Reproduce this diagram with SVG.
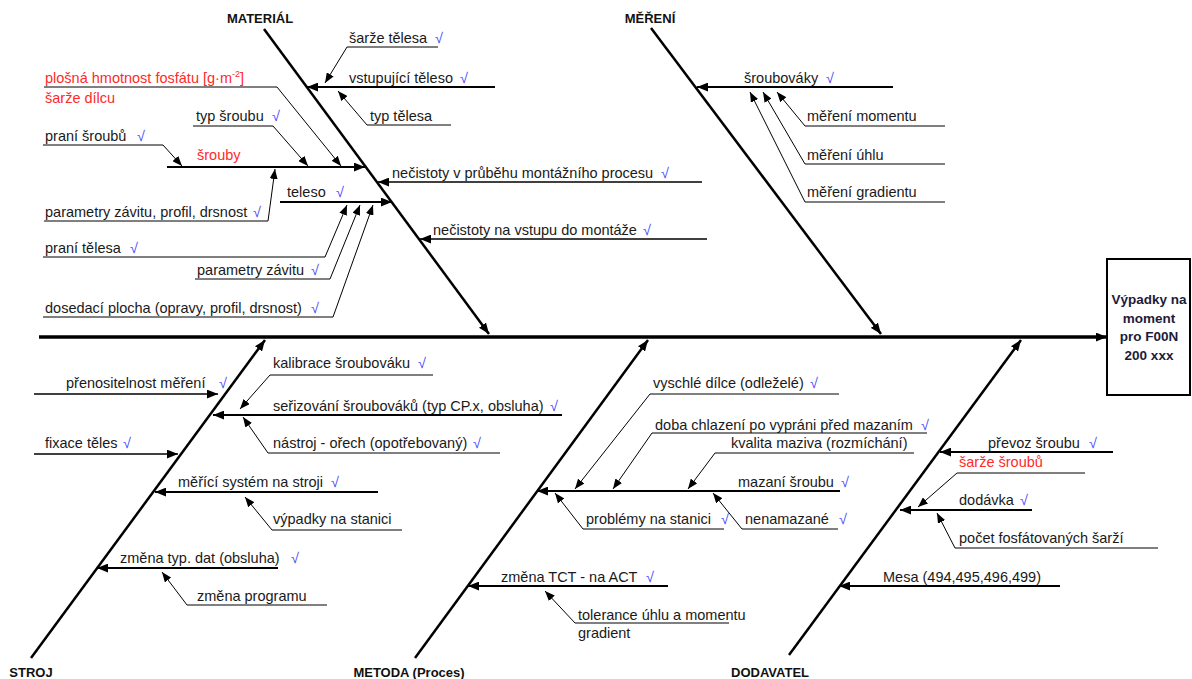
<svg xmlns="http://www.w3.org/2000/svg" width="1192" height="679" viewBox="0 0 1192 679">
<style>
.t{font-family:"Liberation Sans",Arial,sans-serif;font-size:14.5px;fill:#1a1a1a}
.r{fill:#ff2a2a}
.ck{fill:#4848ff}
.h{font-family:"Liberation Sans",Arial,sans-serif;font-size:13px;font-weight:bold;fill:#111}
.bx{font-family:"Liberation Sans",Arial,sans-serif;font-size:13.5px;font-weight:bold;fill:#1c1c3a}
.spine{stroke:#000;stroke-width:3.5;fill:none}
.bone{stroke:#000;stroke-width:2.5;fill:none}
.k{stroke:#000;stroke-width:2.2;fill:none}
.m{stroke:#000;stroke-width:1.4;fill:none}
.n{stroke:#000;stroke-width:1;fill:none}
</style>
<defs>
<marker id="ab" viewBox="0 0 10 8" refX="10" refY="4" markerWidth="11" markerHeight="9" markerUnits="userSpaceOnUse" orient="auto"><path d="M0,0L10,4L0,8z" fill="#000"/></marker>
<marker id="as" viewBox="0 0 10 8" refX="10" refY="4" markerWidth="10" markerHeight="8" markerUnits="userSpaceOnUse" orient="auto"><path d="M0,0L10,4L0,8z" fill="#000"/></marker>
</defs>

<g id="connectors">
<line class="spine" x1="39" y1="337" x2="1107" y2="337" marker-end="url(#ab)"/>
<line class="bone" x1="264" y1="29" x2="489" y2="334" marker-end="url(#ab)"/>
<line class="bone" x1="651" y1="28" x2="881" y2="334" marker-end="url(#ab)"/>
<line class="bone" x1="31" y1="658" x2="265" y2="340" marker-end="url(#ab)"/>
<line class="bone" x1="415" y1="658" x2="648" y2="340" marker-end="url(#ab)"/>
<line class="bone" x1="789" y1="655" x2="1021" y2="340" marker-end="url(#ab)"/>

<!-- MATERIAL -->
<polyline class="n" points="438,47 347,47 325,83" marker-end="url(#as)"/>
<line class="k" x1="495" y1="87" x2="307" y2="87" marker-end="url(#ab)"/>
<polyline class="n" points="451,125 367,125 338,91" marker-end="url(#as)"/>
<polyline class="n" points="44,87 277,87 341,166" marker-end="url(#as)"/>
<polyline class="n" points="193,126 273,126 308,166" marker-end="url(#as)"/>
<polyline class="n" points="43,145 163,145 182,166" marker-end="url(#as)"/>
<line class="k" x1="167" y1="167" x2="365" y2="167" marker-end="url(#ab)"/>
<polyline class="n" points="44,221 268,221 275,169" marker-end="url(#as)"/>
<line class="m" x1="702" y1="182" x2="378" y2="182" marker-end="url(#ab)"/>
<line class="k" x1="280" y1="202" x2="392" y2="202" marker-end="url(#ab)"/>
<polyline class="n" points="43,257 325,257 347,205" marker-end="url(#as)"/>
<polyline class="n" points="195,279 330,279 360,205" marker-end="url(#as)"/>
<polyline class="n" points="43,317 333,317 373,205" marker-end="url(#as)"/>
<line class="m" x1="707" y1="239" x2="420" y2="239" marker-end="url(#ab)"/>

<!-- MERENI -->
<line class="k" x1="893" y1="87" x2="697" y2="87" marker-end="url(#ab)"/>
<polyline class="n" points="945,126 805,126 777,92" marker-end="url(#as)"/>
<polyline class="n" points="945,164 805,164 763,92" marker-end="url(#as)"/>
<polyline class="n" points="945,202 805,202 750,92" marker-end="url(#as)"/>

<!-- STROJ -->
<polyline class="n" points="433,375 270,375 240,409" marker-end="url(#as)"/>
<line class="m" x1="34" y1="394" x2="218" y2="394" marker-end="url(#ab)"/>
<line class="k" x1="562" y1="415" x2="213" y2="415" marker-end="url(#ab)"/>
<polyline class="n" points="500,453 268,453 243,417" marker-end="url(#as)"/>
<line class="m" x1="34" y1="454" x2="178" y2="454" marker-end="url(#ab)"/>
<line class="k" x1="378" y1="492" x2="155" y2="492" marker-end="url(#ab)"/>
<polyline class="n" points="402,530 272,530 245,497" marker-end="url(#as)"/>
<line class="k" x1="278" y1="568" x2="97" y2="568" marker-end="url(#ab)"/>
<polyline class="n" points="327,605 187,605 162,572" marker-end="url(#as)"/>

<!-- METODA -->
<polyline class="n" points="839,394 650,394 575,489" marker-end="url(#as)"/>
<polyline class="n" points="927,433 652,433 613,489" marker-end="url(#as)"/>
<polyline class="n" points="914,453 715,453 688,489" marker-end="url(#as)"/>
<line class="k" x1="840" y1="491" x2="537" y2="491" marker-end="url(#ab)"/>
<polyline class="n" points="724,529 583,529 555,493" marker-end="url(#as)"/>
<polyline class="n" points="838,529 742,529 713,493" marker-end="url(#as)"/>
<line class="k" x1="668" y1="586" x2="468" y2="586" marker-end="url(#ab)"/>
<polyline class="n" points="729,623 575,623 545,591" marker-end="url(#as)"/>

<!-- DODAVATEL -->
<line class="k" x1="1113" y1="452" x2="940" y2="452" marker-end="url(#ab)"/>
<polyline class="n" points="1085,473 957,473 918,507" marker-end="url(#as)"/>
<line class="k" x1="1032" y1="510" x2="900" y2="510" marker-end="url(#ab)"/>
<polyline class="n" points="1158,548 955,548 937,513" marker-end="url(#as)"/>
<line class="k" x1="1060" y1="586" x2="839" y2="586" marker-end="url(#ab)"/>
</g>

<g id="effect">
<rect x="1107" y="259" width="83" height="136" fill="#fff" stroke="#000" stroke-width="2"/>
<text class="bx" text-anchor="middle"><tspan x="1149" y="304">Výpadky na</tspan><tspan x="1149" y="323">moment</tspan><tspan x="1149" y="341">pro F00N</tspan><tspan x="1149" y="360">200 xxx</tspan></text>
</g>

<g id="material">
<text class="h" x="260" y="23" text-anchor="middle">MATERIÁL</text>
<text class="t" x="349" y="43">šarže tělesa <tspan class="ck" x="435">√</tspan></text>
<text class="t" x="349" y="83">vstupující těleso <tspan class="ck" x="460">√</tspan></text>
<text class="t" x="370" y="121">typ tělesa</text>
<text class="t r" x="45" y="83">plošná hmotnost fosfátu [g·m<tspan font-size="9" dy="-6">-2</tspan><tspan dy="6">]</tspan></text>
<text class="t r" x="45" y="103">šarže dílcu</text>
<text class="t" x="196" y="121">typ šroubu <tspan class="ck" x="272">√</tspan></text>
<text class="t" x="45" y="141">praní šroubů <tspan class="ck" x="137">√</tspan></text>
<text class="t r" x="197" y="160">šrouby</text>
<text class="t" x="45" y="217">parametry závitu, profil, drsnost <tspan class="ck" x="253">√</tspan></text>
<text class="t" x="392" y="178">nečistoty v průběhu montážního procesu <tspan class="ck" x="661">√</tspan></text>
<text class="t" x="287" y="197">teleso <tspan class="ck" x="336">√</tspan></text>
<text class="t" x="45" y="253">praní tělesa <tspan class="ck" x="130">√</tspan></text>
<text class="t" x="197" y="275">parametry závitu <tspan class="ck" x="311">√</tspan></text>
<text class="t" x="45" y="313">dosedací plocha (opravy, profil, drsnost) <tspan class="ck" x="311">√</tspan></text>
<text class="t" x="433" y="235">nečistoty na vstupu do montáže <tspan class="ck" x="643">√</tspan></text>
</g>

<g id="mereni">
<text class="h" x="650" y="23" text-anchor="middle">MĚŘENÍ</text>
<text class="t" x="744" y="83">šroubováky <tspan class="ck" x="826">√</tspan></text>
<text class="t" x="807" y="121">měření momentu</text>
<text class="t" x="807" y="160">měření úhlu</text>
<text class="t" x="807" y="197">měření gradientu</text>
</g>

<g id="stroj">
<text class="h" x="31" y="677" text-anchor="middle">STROJ</text>
<text class="t" x="273" y="368">kalibrace šroubováku <tspan class="ck" x="418">√</tspan></text>
<text class="t" x="66" y="388">přenositelnost měření <tspan class="ck" x="219">√</tspan></text>
<text class="t" x="273" y="411">seřizování šroubováků (typ CP.x, obsluha) <tspan class="ck" x="550">√</tspan></text>
<text class="t" x="273" y="448">nástroj - ořech (opotřebovaný) <tspan class="ck" x="473">√</tspan></text>
<text class="t" x="45" y="448">fixace těles <tspan class="ck" x="123">√</tspan></text>
<text class="t" x="178" y="487">měřící systém na stroji <tspan class="ck" x="331">√</tspan></text>
<text class="t" x="273" y="524">výpadky na stanici</text>
<text class="t" x="120" y="563">změna typ. dat (obsluha) <tspan class="ck" x="291">√</tspan></text>
<text class="t" x="197" y="601">změna programu</text>
</g>

<g id="metoda">
<text class="h" x="409" y="677" text-anchor="middle">METODA (Proces)</text>
<text class="t" x="653" y="388">vyschlé dílce (odleželé) <tspan class="ck" x="810">√</tspan></text>
<text class="t" x="655" y="430">doba chlazení po vypráni před mazaním <tspan class="ck" x="921">√</tspan></text>
<text class="t" x="731" y="448">kvalita maziva (rozmíchání)</text>
<text class="t" x="738" y="487">mazaní šroubu <tspan class="ck" x="841">√</tspan></text>
<text class="t" x="586" y="524">problémy na stanici <tspan class="ck" x="721">√</tspan></text>
<text class="t" x="745" y="524">nenamazané <tspan class="ck" x="839">√</tspan></text>
<text class="t" x="501" y="582">změna TCT - na ACT <tspan class="ck" x="646">√</tspan></text>
<text class="t" x="578" y="620">tolerance úhlu a momentu</text>
<text class="t" x="578" y="638">gradient</text>
</g>

<g id="dodavatel">
<text class="h" x="770" y="677" text-anchor="middle">DODAVATEL</text>
<text class="t" x="988" y="448">převoz šroubu <tspan class="ck" x="1089">√</tspan></text>
<text class="t r" x="959" y="467">šarže šroubů</text>
<text class="t" x="959" y="505">dodávka <tspan class="ck" x="1020">√</tspan></text>
<text class="t" x="959" y="543">počet fosfátovaných šarží</text>
<text class="t" x="883" y="582">Mesa (494,495,496,499)</text>
</g>
</svg>
